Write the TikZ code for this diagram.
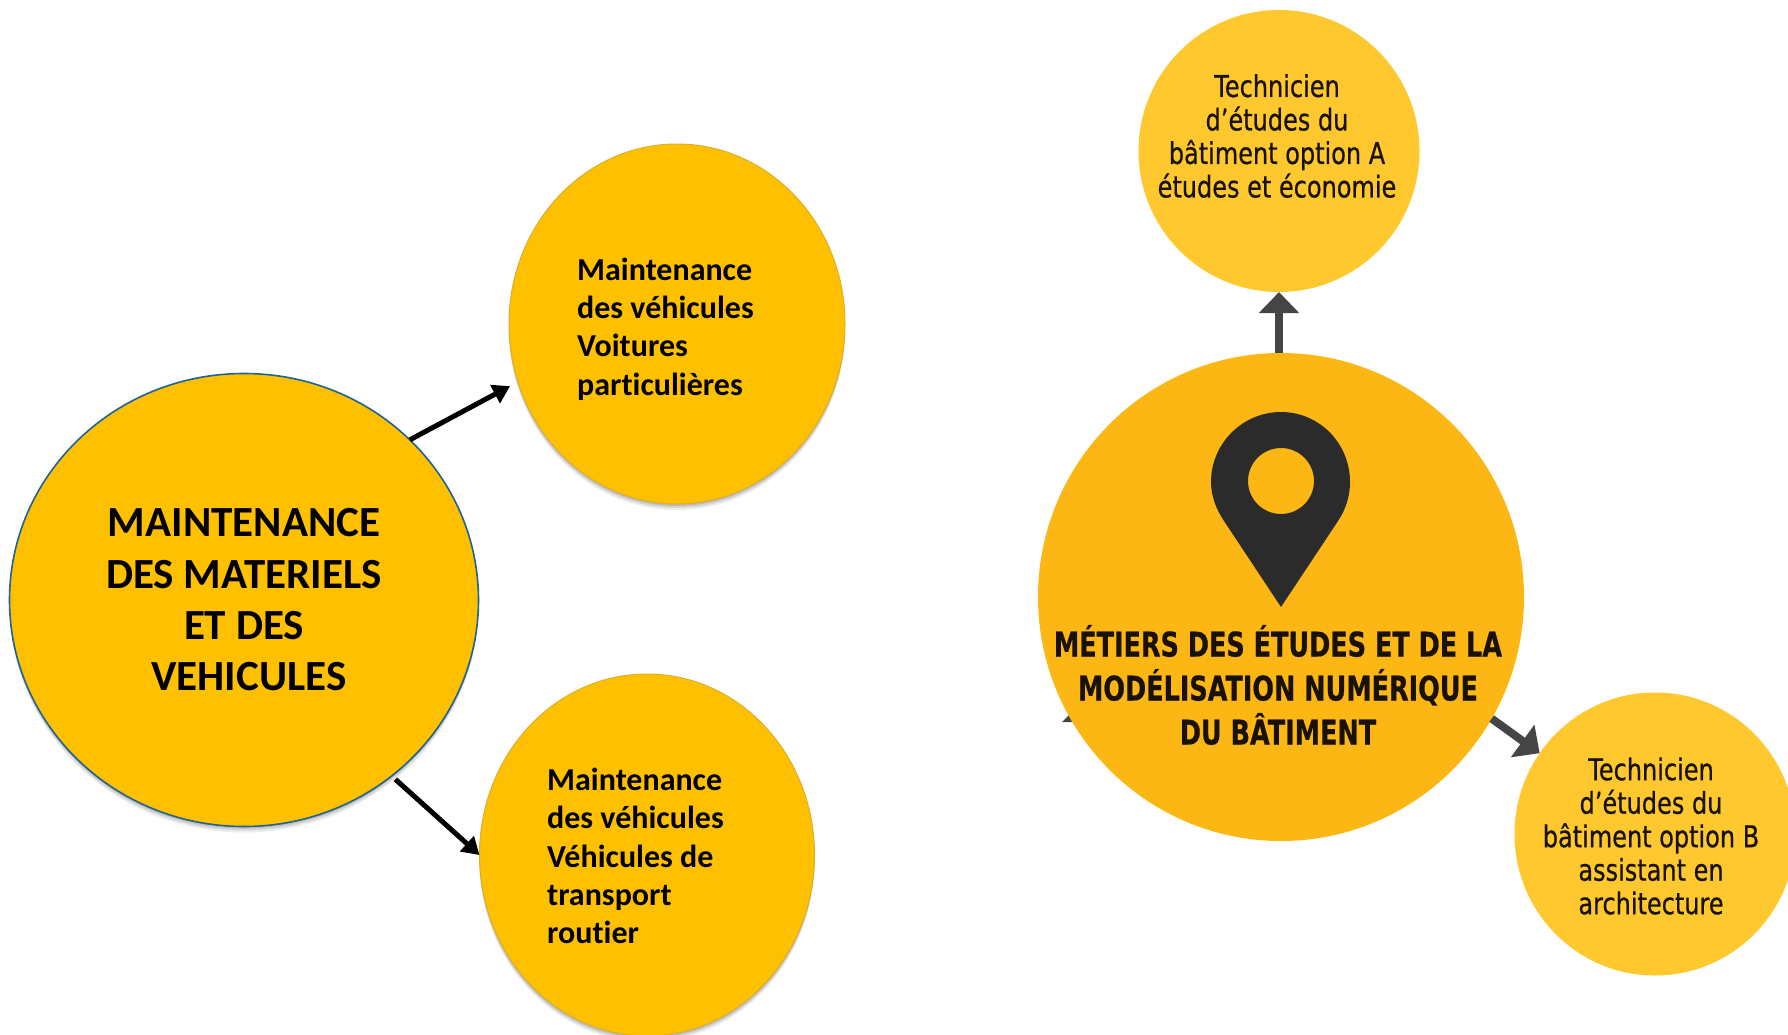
\documentclass[tikz,border=0pt]{standalone}
\usepackage{fontspec}
\setmainfont[Ligatures=NoCommon]{Carlito}
\newfontfamily\dinsmall[FakeStretch=0.80,FakeBold=0.6]{DejaVu Sans}
\newfontfamily\dintitle[FakeStretch=0.75,FakeBold=0.6]{DejaVu Sans}
\usetikzlibrary{shapes.geometric,arrows.meta,shadows}
\definecolor{amberL}{HTML}{FFC000}
\definecolor{edgeBlue}{HTML}{1F6391}
\definecolor{edgeGold}{HTML}{DDAE2C}
\definecolor{amberR}{HTML}{FDB714}
\definecolor{amberS}{HTML}{FEC82E}
\definecolor{pinDark}{HTML}{2B2B2B}
\definecolor{arrowGrey}{HTML}{454545}
\tikzset{
  softshadow/.style={
    drop shadow={shadow xshift=0pt,shadow yshift=-2pt,opacity=.12,fill=black},
    drop shadow={shadow xshift=0pt,shadow yshift=-4pt,opacity=.10,fill=black},
    drop shadow={shadow xshift=0pt,shadow yshift=-6pt,opacity=.07,fill=black}},
  disc/.style={ellipse,inner sep=0pt,outer sep=0pt},
  leftbig/.style={disc,fill=amberL,draw=edgeBlue,line width=1.6pt,softshadow,
    font=\fontsize{43}{51.3}\selectfont\bfseries,align=center,text=black},
  leftsmall/.style={disc,fill=amberL,draw=edgeGold,line width=1pt,softshadow},
  lefttext/.style={font=\fontsize{32}{38.3}\selectfont\bfseries,align=left,inner sep=0pt,text=black},
  rightbig/.style={disc,fill=amberR},
  rightsmall/.style={disc,fill=amberS},
  righttext/.style={font=\fontsize{30}{33.5}\selectfont\dinsmall,align=center,inner sep=0pt,text=black!90!amberR},
  titletext/.style={font=\fontsize{34}{44}\selectfont\dintitle\bfseries,align=center,inner sep=0pt,text=black!90!amberR},
  blackarrow/.style={line width=5pt,draw=black,-{Triangle[length=17pt,width=20pt]}},
  greyarrow/.style={line width=8pt,draw=arrowGrey,-{Triangle[length=21pt,width=39pt]}}
}
\begin{document}
\begin{tikzpicture}[x=1pt,y=-1pt]
\useasboundingbox (0,0) rectangle (1788,1035);
% left group
\node[leftsmall,minimum width=336pt,minimum height=360pt] (lt) at (677,324) {};
\node[leftsmall,minimum width=335pt,minimum height=362pt] (lb) at (647,855) {};
\node[leftbig,minimum width=469pt,minimum height=453pt] (lm) at (244,600) {MAINTENANCE\\DES MATERIELS\\ET DES\\\ VEHICULES};
\node[lefttext,anchor=west] (ltt) at (577,329) {Maintenance\\des véhicules\\Voitures\\particulières};
\node[lefttext,anchor=west] (lbt) at (547,856) {Maintenance\\des véhicules\\Véhicules de\\transport\\routier};
\draw[blackarrow,shorten >=9pt] (lm.44) -- (lt.200);
\draw[blackarrow,shorten <=5pt] (lm.-50) -- (lb.180);
% right group
\node[rightsmall,minimum width=281pt,minimum height=282pt] (rt) at (1279,151) {};
\node[rightsmall,minimum width=281pt,minimum height=283pt] (rb) at (1655,834) {};
\draw[greyarrow] (1279,353) coordinate (rmtop) -- (rt.south);
\fill[arrowGrey] (1062,722) -- (1072,712) -- (1075,722) -- cycle;
\node[rightbig,minimum width=486pt,minimum height=488pt] (rm) at (1281,597) {};
\draw[greyarrow] (rm.-30) -- (rb.145);
\fill[pinDark,even odd rule] (1281,607)
  -- (1224,521)
  .. controls (1216,509) and (1211,496) .. (1211,482)
  .. controls (1211,443) and (1243,412) .. (1281,412)
  .. controls (1319,412) and (1350,443) .. (1350,482)
  .. controls (1350,496) and (1346,509) .. (1338,521) -- cycle
  (1281,481) circle[radius=33pt];
\node[titletext] (rmt) at (1278,685) {MÉTIERS DES ÉTUDES ET DE LA\\MODÉLISATION NUMÉRIQUE\\DU BÂTIMENT};
\node[righttext] (rtt) at (1277,136) {Technicien\\d’études du\\bâtiment option A\\études et économie};
\node[righttext] (rbt) at (1651,836) {Technicien\\d’études du\\bâtiment option B\\assistant en\\architecture};
\end{tikzpicture}
\end{document}
